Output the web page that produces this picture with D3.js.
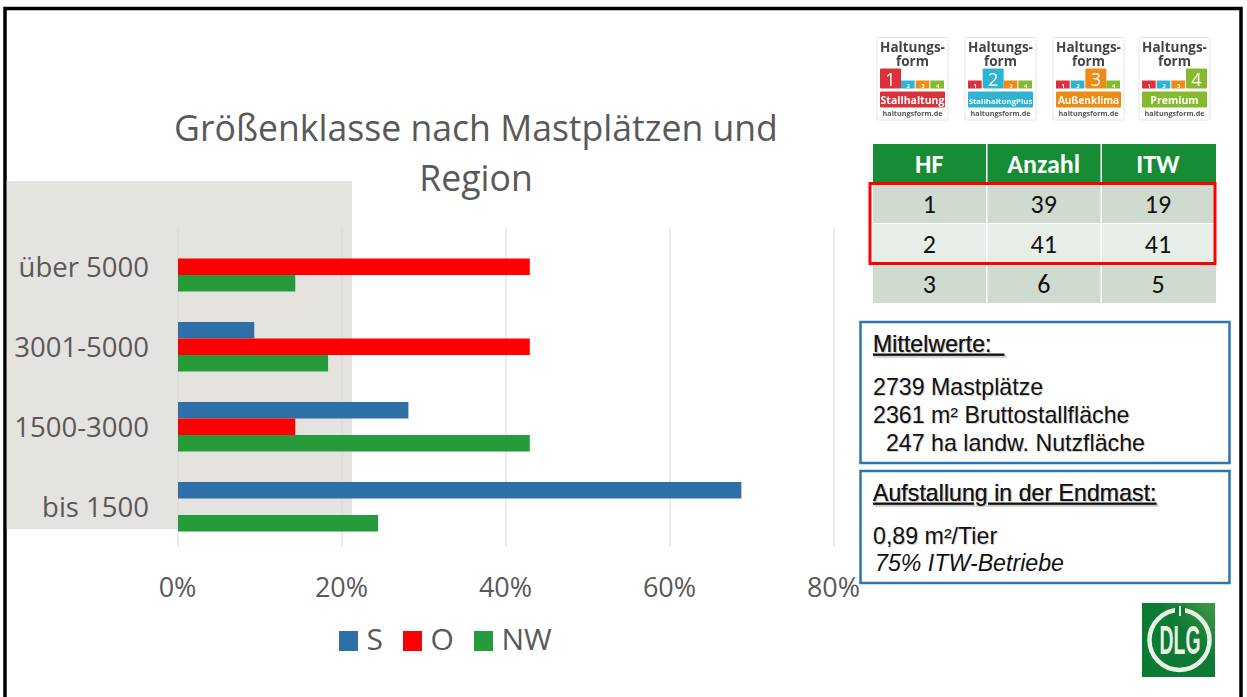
<!DOCTYPE html>
<html><head><meta charset="utf-8">
<script src="https://cdn.jsdelivr.net/npm/d3@7"></script>
<style>html,body{margin:0;padding:0;background:#fff;overflow:hidden}svg{display:block}</style>
</head><body><svg id="c" width="1247" height="697"></svg>
<script>
const categories = ["bis 1500","1500-3000","3001-5000","über 5000"];
const seriesNames = ["S","O","NW"];
const seriesColors = ["#2e6fa8","#ff0000","#259b3b"];
const valuesS = [68.7,28.1,9.3,0];
const valuesO = [0,14.3,42.9,42.9];
const valuesNW = [24.4,42.9,18.3,14.3];
const xTicks = [0,20,40,60,80];
const tableHeader = ["HF","Anzahl","ITW"];
const tableRows = [["1","39","19"],["2","41","41"],["3","6","5"]];
const titleLines = ["Größenklasse nach Mastplätzen und","Region"];
const box1 = ["2739 Mastplätze","2361 m² Bruttostallfläche","  247 ha landw. Nutzfläche"];
const box2 = ["0,89 m²/Tier","75% ITW-Betriebe"];
const badges = [
 {n:"1",name:"Stallhaltung",c:"#d9303a",fs:10.5,x:877},
 {n:"2",name:"StallhaltungPlus",c:"#2fb3d2",fs:7.8,x:965},
 {n:"3",name:"Außenklima",c:"#ee8a12",fs:10,x:1053},
 {n:"4",name:"Premium",c:"#85b92f",fs:10.5,x:1139}];
const svg = d3.select("#c");
const sans = "'Open Sans','Noto Sans',sans-serif";
const arial = "'Liberation Sans',Arial,sans-serif";
const defs = svg.append("defs");
defs.append("filter").attr("id","soft").append("feGaussianBlur").attr("stdDeviation",0.45);
svg.append("rect").attr("x",5).attr("y",8.5).attr("width",1236).attr("height",700).attr("fill","#fff").attr("stroke","#000").attr("stroke-width",3.5);
svg.append("rect").attr("x",6.75).attr("y",181).attr("width",345.25).attr("height",348).attr("fill","#e5e3df");

const x = d3.scaleLinear().domain([0,80]).range([178,834]);
const y = d3.scaleBand().domain(categories).range([547,227]);
const g = svg.append("g");
g.selectAll("line.g").data(xTicks).join("line").attr("class","g")
 .attr("x1",d=>x(d)).attr("x2",d=>x(d)).attr("y1",227).attr("y2",547).attr("stroke","#d9d9d9").attr("stroke-width",1);
const rows=[valuesS,valuesO,valuesNW];
const barH=16.5, offs=[-25,-8.5,8];
rows.forEach((vals,i)=>{
 g.selectAll("rect.s"+i).data(vals.map((v,j)=>({v,c:categories[j]})).filter(d=>d.v>0)).join("rect")
  .attr("x",x(0)).attr("width",d=>x(d.v)-x(0))
  .attr("y",d=>y(d.c)+y.bandwidth()/2+offs[i]).attr("height",barH).attr("fill",seriesColors[i]);
});
const ax = d3.axisBottom(x).tickValues(xTicks).tickFormat(d=>d+"%").tickSize(0);
const axg = svg.append("g").attr("transform","translate(-1,587)").call(ax);
axg.select(".domain").remove();
axg.selectAll("text").attr("y",0).attr("dy",".36em").attr("font-family",sans).attr("font-size",27).attr("fill","#595959");
const ay = d3.axisLeft(y).tickSize(0);
const ayg = svg.append("g").attr("transform","translate(149,1)").call(ay);
ayg.select(".domain").remove();
ayg.selectAll("text").attr("x",0).attr("font-family",sans).attr("font-size",27.5).attr("fill","#595959");

svg.selectAll("text.title").data(titleLines).join("text").attr("class","title")
 .attr("x",476).attr("y",(d,i)=>141+i*50).attr("text-anchor","middle").attr("font-family",sans).attr("font-size",35.6).attr("fill","#595959").text(d=>d);

const lx=[339,403,474];
seriesNames.forEach((n,i)=>{
 svg.append("rect").attr("x",lx[i]).attr("y",631).attr("width",19).attr("height",20).attr("fill",seriesColors[i]);
 svg.append("text").attr("x",lx[i]+27.5).attr("y",650).attr("font-family",sans).attr("font-size",30).attr("fill","#595959").text(n);
});

// badges
badges.forEach((b,bi)=>{
 const w=71,t=37.5,g=svg.append("g").attr("transform",`translate(${b.x},${t})`).attr("filter","url(#soft)");
 g.append("rect").attr("width",w).attr("height",82.5).attr("rx",2).attr("fill","#fff").attr("stroke","#e4e4e4");
 ["Haltungs-","form"].forEach((s,i)=>g.append("text").attr("x",w/2).attr("y",14+i*14).attr("text-anchor","middle").attr("font-family",sans).attr("font-weight",700).attr("font-size",13.5).attr("fill","#444").text(s));
 const cols=["#d9303a","#2fb3d2","#ee8a12","#85b92f"];
 let sx=3;
 for(let i=0;i<4;i++){
  const big=i===bi, wd=big?21:(w-6-21)/3;
  if(big){
   g.append("rect").attr("x",sx).attr("y",31).attr("width",wd).attr("height",20).attr("rx",1).attr("fill",cols[i]);
   g.append("text").attr("x",sx+wd/2).attr("y",48).attr("text-anchor","middle").attr("font-family",sans).attr("font-size",18).attr("fill","#fff").text(i+1);
  } else {
   g.append("rect").attr("x",sx).attr("y",43).attr("width",wd-1).attr("height",8).attr("fill",cols[i]);
   g.append("text").attr("x",sx+wd/2).attr("y",50).attr("text-anchor","middle").attr("font-family",sans).attr("font-weight",700).attr("font-size",6).attr("fill","#fff").text(i+1);
  }
  sx+=wd;
 }
 g.append("rect").attr("x",3).attr("y",54).attr("width",w-6).attr("height",16).attr("rx",1).attr("fill",b.c);
 g.append("text").attr("x",w/2).attr("y",66).attr("text-anchor","middle").attr("font-family",sans).attr("font-weight",700).attr("font-size",b.fs).attr("fill","#fff").text(b.name);
 g.append("text").attr("x",w/2).attr("y",78).attr("text-anchor","middle").attr("font-family",sans).attr("font-weight",700).attr("font-size",7.2).attr("fill","#555").text("haltungsform.de");
});

// table
const colX=[873,987.5,1102,1216], rowY=[144,184,224,264,304];
const rowFill=["#cfdbcf","#e7ede7","#cfdbcf"];
[tableHeader,...tableRows].forEach((r,ri)=>{
 r.forEach((t,ci)=>{
  svg.append("rect").attr("x",colX[ci]).attr("y",rowY[ri]).attr("width",colX[ci+1]-colX[ci]-(ci<2?1.5:0)).attr("height",rowY[ri+1]-rowY[ri]-1)
   .attr("fill",ri===0?"#168c34":rowFill[ri-1]);
  svg.append("text").attr("x",(colX[ci]+colX[ci+1])/2-1).attr("y",rowY[ri]+29).attr("text-anchor","middle")
   .attr("font-family","Carlito,'Open Sans',sans-serif").attr("font-size",26).attr("font-weight",ri===0?700:400).attr("fill",ri===0?"#fff":"#111").text(t);
 });
});
svg.append("rect").attr("x",870).attr("y",183.5).attr("width",345).attr("height",80).attr("fill","none").attr("stroke","#ff0000").attr("stroke-width",3);

// boxes
function box(yy,h){svg.append("rect").attr("x",860.5).attr("y",yy).attr("width",369).attr("height",h).attr("fill","#fff").attr("stroke","#2e75ad").attr("stroke-width",2.5);}
function line(t,xx,yy,o={}){
 svg.append("text").attr("x",xx).attr("y",yy).style("white-space","pre").style("text-shadow",o.i?"none":"1px 1px 1px #ccc").attr("font-family",arial).attr("font-size",23.2)
  .attr("fill","#111").attr("font-style",o.i?"italic":"normal").attr("text-decoration",o.u?"underline":"none").text(t);
}
box(322,141); box(471,112);
line("Mittelwerte:  ",873,351.5,{u:1});
box1.forEach((t,i)=>line(t,873,394.5+i*28.3));
line("Aufstallung in der Endmast:",873,500.5,{u:1});
line(box2[0],873,543.5);
line(box2[1],875,570.5,{i:1});

// DLG logo
const lg=svg.append("g");
const grad=defs.append("linearGradient").attr("id","dg").attr("x1",0).attr("y1",1).attr("x2",1).attr("y2",0);
grad.append("stop").attr("offset",0).attr("stop-color","#0a7a35");
grad.append("stop").attr("offset",.6).attr("stop-color","#0d7a35");
grad.append("stop").attr("offset",1).attr("stop-color","#3f9a45");
lg.append("rect").attr("x",1142).attr("y",603).attr("width",73).attr("height",74).attr("fill","url(#dg)");
lg.append("circle").attr("cx",1179.5).attr("cy",640).attr("r",30).attr("fill","none").attr("stroke","#e8f3e4").attr("stroke-width",4.5);
lg.append("rect").attr("x",1175).attr("y",606).attr("width",10).attr("height",9).attr("fill","#0d7a35");
lg.append("rect").attr("x",1179).attr("y",606).attr("width",2).attr("height",10).attr("fill","#e8f3e4");
lg.append("text").attr("x",1180).attr("y",654).attr("text-anchor","middle").attr("font-family",arial).attr("font-weight",700).attr("font-size",40).attr("fill","#e8f3e4")
 .attr("textLength",41).attr("lengthAdjust","spacingAndGlyphs").text("DLG");
</script></body></html>
